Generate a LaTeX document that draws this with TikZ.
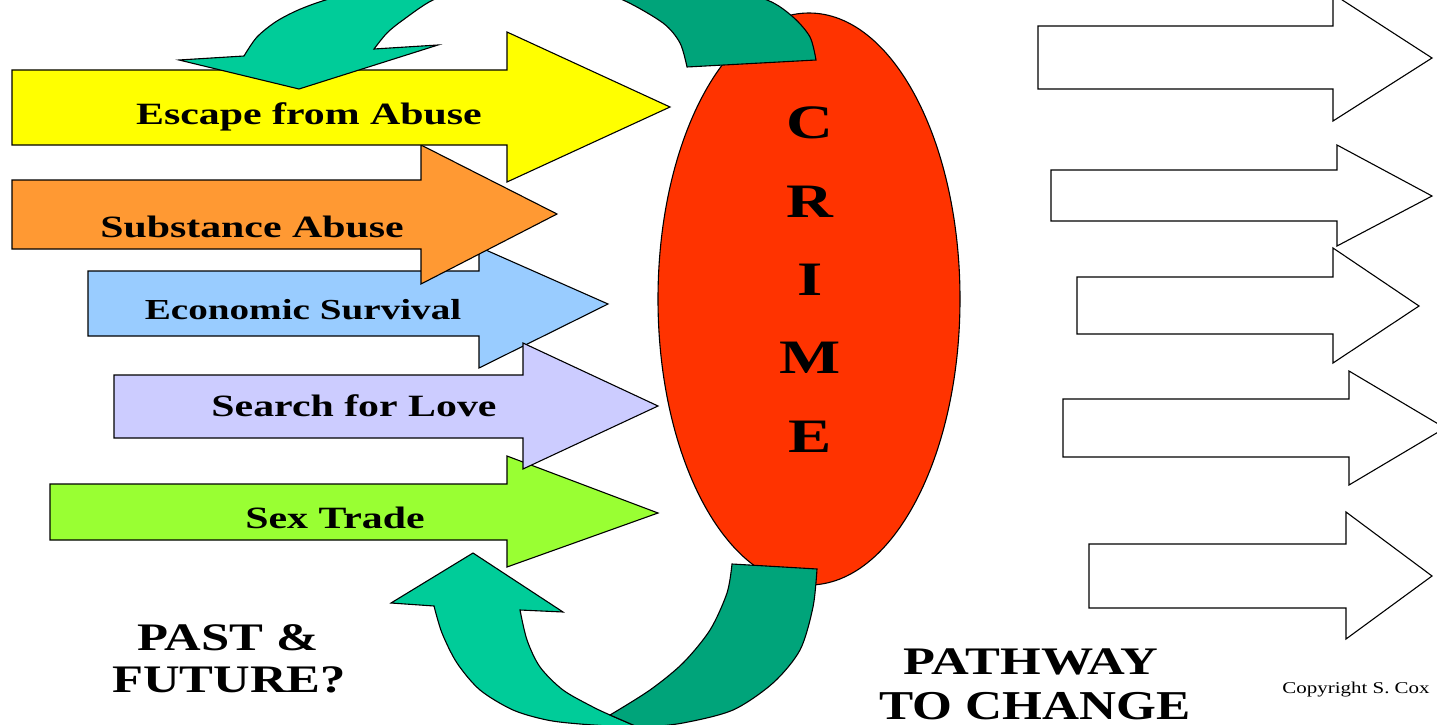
\documentclass[tikz,border=0pt]{standalone}
\usepackage{fontspec}
\setmainfont{Liberation Serif}
\usepackage{graphicx}
\definecolor{cyellow}{HTML}{FFFF00}
\definecolor{corange}{HTML}{FF9933}
\definecolor{cblue}{HTML}{99CCFF}
\definecolor{clav}{HTML}{CCCCFF}
\definecolor{cgreen}{HTML}{99FF33}
\definecolor{cred}{HTML}{FF3300}
\definecolor{tealL}{HTML}{00CC99}
\definecolor{tealD}{HTML}{00A47A}
\tikzset{
  outline/.style={draw=black, line width=1.1pt, line join=miter},
  lbl/.style={font=\bfseries\fontsize{31}{31}\selectfont, inner sep=0pt, anchor=base},
  crime/.style={font=\bfseries\fontsize{48}{48}\selectfont, inner sep=0pt, anchor=center},
  big/.style={font=\bfseries\fontsize{39}{39}\selectfont, inner sep=0pt, anchor=base},
}
\newcommand\blockarrow[9]{%
  \filldraw[outline, fill=#1] (#2,#3) -- (#5,#3) -- (#5,#6) -- (#8,#9) -- (#5,#7) -- (#5,#4) -- (#2,#4) -- cycle;}
\newcommand\sx[2][1.35]{\scalebox{#1}[1]{#2}}
\begin{document}
\begin{tikzpicture}[x=1pt,y=-1pt]
\clip (0,0) rectangle (1437,725);
\fill[white] (0,0) rectangle (1437,725);
% left arrows (bottom to top order)
\blockarrow{cgreen}{50}{484}{540}{507}{456}{567}{658}{513}
\blockarrow{cblue}{88}{271}{336}{479}{247}{368}{608}{304}
\blockarrow{clav}{114}{375}{438}{523}{343}{469}{658}{406}
\blockarrow{corange}{12}{180}{249}{421}{145}{284}{557}{214}
\blockarrow{cyellow}{12}{70}{145}{507}{32}{182}{670}{107}
\node[lbl] (escape) at (309,124) {\sx{Escape from Abuse}};
\node[lbl] (subst) at (252,237) {\sx{Substance Abuse}};
\node[lbl, font=\bfseries\fontsize{29}{29}\selectfont] (econ) at (303,319) {\sx{Economic Survival}};
\node[lbl] (search) at (354,416) {\sx{Search for Love}};
\node[lbl] (sex) at (335,528) {\sx{Sex Trade}};
% right outline arrows
\blockarrow{white}{1038}{26}{89}{1333}{-6}{121}{1432}{58}
\blockarrow{white}{1051}{170}{221}{1337}{145}{246}{1432}{196}
\blockarrow{white}{1077}{277}{334}{1333}{248}{363}{1419}{306}
\blockarrow{white}{1063}{399}{457}{1349}{371}{485}{1445}{428}
\blockarrow{white}{1089}{544}{608}{1346}{512}{639}{1432}{576}
% crime ellipse
\filldraw[outline, fill=cred] (809,299) ellipse[x radius=151, y radius=286];
% top curved arrow: dark part
\filldraw[outline, fill=tealD]
  plot[smooth] coordinates {(529,-16) (585,-11) (623,0) (663,23) (680,43) (687,67)}
  -- (816,60)
  -- plot[smooth] coordinates {(816,60) (810,37) (793,17) (767,0) (710,-15) (630,-27) (540,-31)}
  -- cycle;
% top curved arrow: light part with head
\filldraw[outline, fill=tealL]
  plot[smooth] coordinates {(540,-31) (430,-24) (340,-4) (303,8) (277,21) (257,37) (244,56)}
  -- (179,60) -- (299,89) -- (438,45) -- (374,49)
  -- plot[smooth] coordinates {(374,49) (387,33) (403,20) (433,0) (470,-11) (529,-16)}
  -- cycle;
% bottom curved arrow: light part with head
\filldraw[outline, fill=tealL]
  (434,606) -- (391,603) -- (473,553) -- (563,612) -- (520,610)
  -- plot[smooth] coordinates {(520,610) (527,640) (540,667) (563,690) (593,707) (610,715)}
  -- (640,728)
  -- plot[smooth] coordinates {(640,728) (580,724) (547,720) (513,710) (480,690) (457,663) (442,633) (434,606)}
  -- cycle;
% bottom curved arrow: dark part
\filldraw[outline, fill=tealD]
  plot[smooth] coordinates {(610,715) (650,690) (683,663) (710,630) (727,593) (732,564)}
  -- (817,569)
  -- plot[smooth] coordinates {(817,569) (813,607) (800,650) (773,683) (733,710) (683,723) (640,728)}
  -- cycle;
% CRIME letters
\node[crime] (c1) at (810,123) {\sx{C}};
\node[crime] (c2) at (810,202) {\sx{R}};
\node[crime] (c3) at (810,280) {\sx{I}};
\node[crime] (c4) at (810,358) {\sx{M}};
\node[crime] (c5) at (810,437) {\sx{E}};
% captions
\node[big] (past) at (228,650) {\sx[1.3]{PAST \&}};
\node[big] (future) at (229,692) {\sx[1.3]{FUTURE?}};
\node[big] (path) at (1031,674) {\sx[1.34]{PATHWAY}};
\node[big, font=\bfseries\fontsize{41}{41}\selectfont] (change) at (1035,719) {\sx[1.25]{TO CHANGE}};
\node[inner sep=0pt, anchor=base, font=\fontsize{16.5}{16.5}\selectfont] (copy) at (1356,693) {\sx[1.27]{Copyright S. Cox}};
\end{tikzpicture}
\end{document}
